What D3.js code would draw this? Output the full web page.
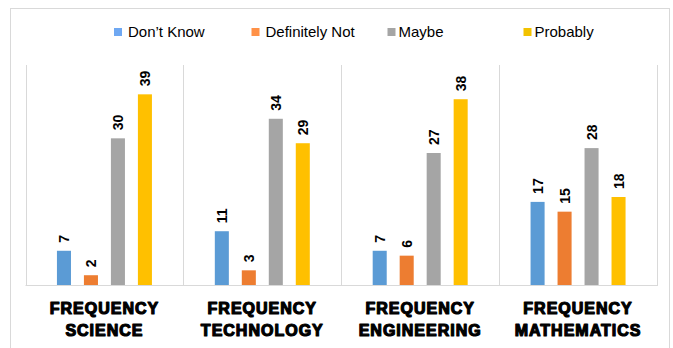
<!DOCTYPE html>
<html>
<head>
<meta charset="utf-8">
<script src="https://cdn.jsdelivr.net/npm/d3@7"></script>
<style>
  body { margin: 0; background: #fff; }
  svg { display: block; }
</style>
</head>
<body>
<div id="chart"></div>
<script>
// chart data
var categories = ["FREQUENCY SCIENCE", "FREQUENCY TECHNOLOGY", "FREQUENCY ENGINEERING", "FREQUENCY MATHEMATICS"];
var seriesNames = ["Don\u2019t Know", "Definitely Not", "Maybe", "Probably"];
var dontKnow = [7, 11, 7, 17];
var definitelyNot = [2, 3, 6, 15];
var maybe = [30, 34, 27, 28];
var probably = [39, 29, 38, 18];

var seriesValues = [dontKnow, definitelyNot, maybe, probably];
var barColors = ["#5B9BD5", "#ED7D31", "#A5A5A5", "#FFC000"];
var legendColors = ["#6FA8F2", "#FF9147", "#A5A5A5", "#F2C200"];

var width = 673, height = 348;
var plot = {left: 25.5, right: 657, top: 65, bottom: 285};

var svg = d3.select("#chart").append("svg")
	.attr("width", width)
	.attr("height", height);

// outer chart border
svg.append("rect")
	.attr("x", 10.5).attr("y", 8.5)
	.attr("width", 659).attr("height", 345)
	.attr("fill", "#fff")
	.attr("stroke", "#d9d9d9");

var x0 = d3.scaleBand()
	.domain(categories)
	.range([plot.left, plot.right])
	.padding(0);

var x1 = d3.scaleBand()
	.domain(seriesNames)
	.range([0, x0.bandwidth()])
	.paddingInner(0.48)
	.paddingOuter(1.165);

var y = d3.scaleLinear()
	.domain([0, 45])
	.range([plot.bottom, plot.top]);

// vertical separators between categories
var edges = categories.map(d => x0(d)).concat([plot.right]);
svg.selectAll("line.sep")
	.data(edges)
	.enter().append("line")
	.attr("class", "sep")
	.attr("x1", d => Math.round(d) + 0.5).attr("x2", d => Math.round(d) + 0.5)
	.attr("y1", plot.top).attr("y2", plot.bottom)
	.attr("stroke", "#d9d9d9");

// baseline
svg.append("line")
	.attr("x1", plot.left).attr("x2", plot.right + 1)
	.attr("y1", plot.bottom + 0.5).attr("y2", plot.bottom + 0.5)
	.attr("stroke", "#d9d9d9");

// bars
var groups = svg.selectAll("g.cat")
	.data(categories)
	.enter().append("g")
	.attr("class", "cat")
	.attr("transform", d => "translate(" + x0(d) + ",0)");

groups.selectAll("rect")
	.data((d, i) => seriesNames.map((s, j) => ({name: s, value: seriesValues[j][i], k: j})))
	.enter().append("rect")
	.attr("x", d => x1(d.name))
	.attr("width", x1.bandwidth())
	.attr("y", d => y(d.value))
	.attr("height", d => y(0) - y(d.value))
	.attr("fill", d => barColors[d.k]);

// rotated value labels
groups.selectAll("text.val")
	.data((d, i) => seriesNames.map((s, j) => ({name: s, value: seriesValues[j][i]})))
	.enter().append("text")
	.attr("class", "val")
	.attr("transform", d => "translate(" + (x1(d.name) + x1.bandwidth() / 2) + "," + (y(d.value) - 8) + ") rotate(-90)")
	.attr("dy", "0.36em")
	.attr("text-anchor", "start")
	.attr("font-family", "Liberation Sans, Arial, sans-serif")
	.attr("font-weight", "bold")
	.attr("font-size", 14)
	.attr("fill", "#000")
	.text(d => d.value);

// category labels, two lines each
var catLabels = svg.selectAll("text.cat")
	.data(categories)
	.enter().append("text")
	.attr("class", "cat")
	.attr("x", d => x0(d) + x0.bandwidth() / 2)
	.attr("y", 313.5)
	.attr("text-anchor", "middle")
	.attr("font-family", "Liberation Sans, Arial, sans-serif")
	.attr("font-weight", "bold")
	.attr("font-size", 16)
	.attr("letter-spacing", 1)
	.attr("fill", "#000")
	.attr("stroke", "#000")
	.attr("stroke-width", 1.2)
	.attr("stroke-linejoin", "round");

catLabels.selectAll("tspan")
	.data(d => d.split(" "))
	.enter().append("tspan")
	.attr("x", function() { var p = this.parentNode; return +p.getAttribute("x"); })
	.attr("dy", (d, i) => i ? 22 : 0)
	.text(d => d);

// legend
var legendX = [114, 251.5, 387.5, 523.5];
var legend = svg.selectAll("g.legend")
	.data(seriesNames)
	.enter().append("g")
	.attr("class", "legend")
	.attr("transform", (d, i) => "translate(" + legendX[i] + ",28)");

legend.append("rect")
	.attr("width", 8).attr("height", 8)
	.attr("fill", (d, i) => legendColors[i]);

legend.append("text")
	.attr("x", (d, i) => i < 2 ? 14 : 11)
	.attr("y", 4)
	.attr("dy", "0.36em")
	.attr("font-family", "Liberation Sans, Arial, sans-serif")
	.attr("font-size", 15)
	.attr("fill", "#000")
	.text(d => d);
</script>
</body>
</html>
